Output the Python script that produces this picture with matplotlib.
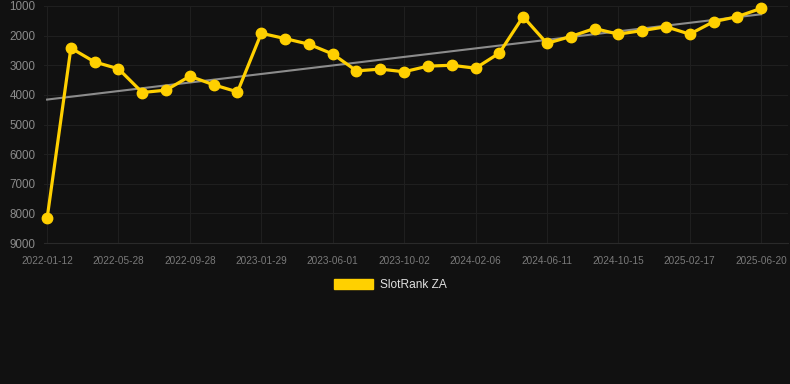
import matplotlib
matplotlib.use("Agg")
import matplotlib.pyplot as plt
import matplotlib.patches as mpatches
import numpy as np

plt.rcParams["font.family"] = ["Liberation Sans", "DejaVu Sans"]

# rank per snapshot (lower is better, axis inverted)
dates = [
    "2022-01-12", "", "", "2022-05-28", "", "", "2022-09-28", "", "",
    "2023-01-29", "", "", "2023-06-01", "", "", "2023-10-02", "", "",
    "2024-02-06", "", "", "2024-06-11", "", "", "2024-10-15", "", "",
    "2025-02-17", "", "", "2025-06-20",
]
ranks = [
    8170, 2420, 2890, 3120, 3920, 3840, 3370, 3660, 3900,
    1920, 2100, 2290, 2620, 3190, 3130, 3220, 3030, 3000,
    3100, 2590, 1360, 2260, 2030, 1760, 1950, 1830, 1700,
    1950, 1530, 1360, 1080,
]
y_ticks = [1000, 2000, 3000, 4000, 5000, 6000, 7000, 8000, 9000]

bg = "#111111"
gold = "#FFD000"

fig = plt.figure(figsize=(7.9, 3.84), dpi=100, facecolor=bg)
ax = fig.add_axes([44 / 790, 1 - 243 / 384, 744 / 790, 237 / 384])
ax.set_facecolor(bg)

x = np.arange(len(ranks))

# linear trend through the series
coef = np.polyfit(x, ranks, 1)
ax.plot(x, np.polyval(coef, x), color="#8c8c8c", linewidth=1.5, zorder=2)

ax.plot(x, ranks, color=gold, linewidth=2.3, marker="o", markersize=7.5,
        zorder=3, clip_on=False)

ax.set_ylim(9000, 1000)
ax.set_xlim(-0.13, 31.13)
ax.set_yticks(y_ticks)
ax.set_yticklabels([str(v) for v in y_ticks])
tick_pos = [i for i, d in enumerate(dates) if d]
ax.set_xticks(tick_pos)
ax.set_xticklabels([dates[i] for i in tick_pos])

ax.tick_params(axis="y", length=0, pad=6, labelsize=8.4, labelcolor="#8a8a8a")
ax.tick_params(axis="x", length=0, pad=9, labelsize=7.2, labelcolor="#7a7a7a")
ax.grid(True, color="#1f1f1f", linewidth=0.8)
for s in ax.spines.values():
    s.set_visible(False)
ax.spines["bottom"].set_visible(True)
ax.spines["bottom"].set_color("#2a2a2a")
ax.spines["bottom"].set_linewidth(0.8)

handle = mpatches.Patch(facecolor=gold, edgecolor=gold, label="SlotRank ZA")
leg = fig.legend(
    handles=[handle], loc="center", bbox_to_anchor=(390 / 790, 1 - 285 / 384),
    frameon=False, fontsize=8.6, handlelength=3.3, handleheight=1.0,
    handletextpad=0.55, labelcolor="#e0e0e0",
)

fig.savefig("out.png", dpi=100, facecolor=bg)
